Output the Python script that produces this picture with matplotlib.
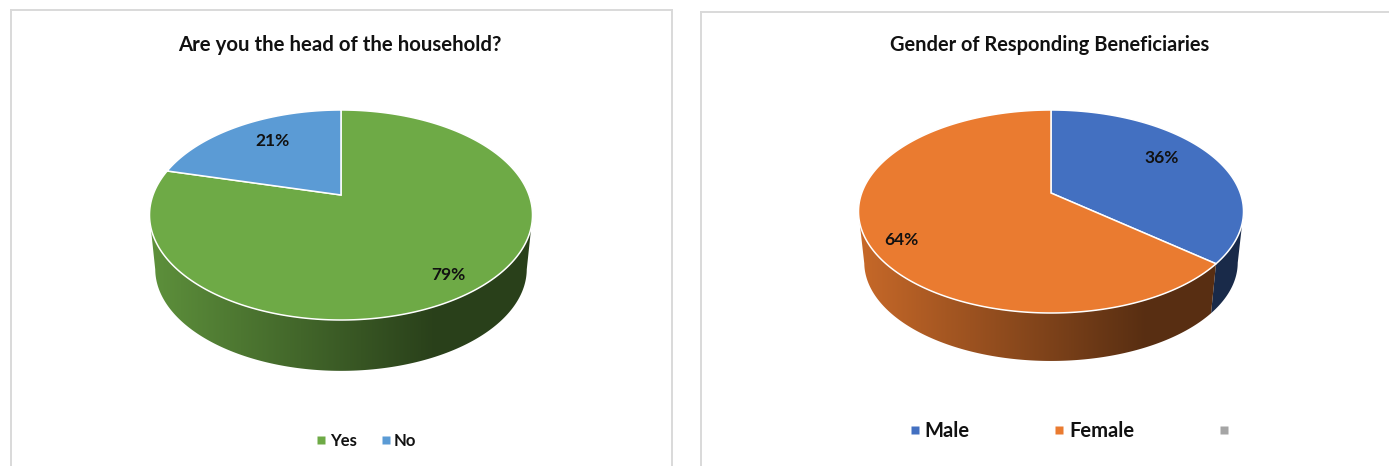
# plot.py - two 3D style pie charts in bordered panels

import numpy as np
import matplotlib
matplotlib.use("Agg")
import matplotlib.pyplot as plt
from matplotlib.colors import to_rgb
from matplotlib.lines import Line2D
from matplotlib.patches import Polygon

W, H = 1389, 466

plt.rcParams["font.family"] = ["Lato", "DejaVu Sans"]
plt.rcParams["font.weight"] = "bold"

# data
head_title = "Are you the head of the household?"
head_labels = ["Yes", "No"]
head_values = [79, 21]
head_colors = ["#6eaa46", "#5b9bd5"]
head_label_pos = [(448, 275), (273, 141)]

gender_title = "Gender of Responding Beneficiaries"
gender_labels = ["Male", "Female", ""]
gender_values = [36, 64]
gender_colors = ["#4370c1", "#ea7b30", "#a5a5a5"]
gender_label_pos = [(1162, 158), (901, 240)]


def make_panel(x0, y0, x1, y1):
    ax = fig.add_axes([x0 / W, 1 - y1 / H, (x1 - x0) / W, (y1 - y0) / H])
    ax.set_xticks([])
    ax.set_yticks([])
    for spine in ax.spines.values():
        spine.set_color("#d9d9d9")
        spine.set_linewidth(1.4)
    ax.set_xlim(x0, x1)
    ax.set_ylim(y1, y0)
    return ax


def side_image(color):
    # left to right shading of the pie wall
    t = np.linspace(0, 1, 256)
    shade = np.interp(t, [0, 0.74, 1], [0.85, 0.38, 0.38])
    return (np.array(to_rgb(color))[None, None, :] * shade[None, :, None]).clip(0, 1)


def draw_pie(ax, values, colors, cx, top, bottom, apex_y, rx, depth):
    # tilted disc: circle -> screen through a projective map, apex is the true centre
    up, down = apex_y - top, bottom - apex_y
    k = (down - up) / (down + up)
    b = up * (1 + k)
    a = rx * np.sqrt(1 - k ** 2)
    cy = (top + bottom) / 2

    def rim(t):
        u, v = np.sin(t), np.cos(t)
        w = 1 + k * v
        return cx + a * u / w, apex_y - b * v / w

    shares = np.cumsum([0] + list(values)) / sum(values) * 2 * np.pi
    slices = list(zip(shares[:-1], shares[1:], colors))

    # wall first, only the part of the rim that faces the viewer
    for start, end, color in slices:
        x, y = rim(np.linspace(start, end, 400))
        front = y >= cy
        if front.sum() < 2:
            continue
        x, y = x[front], y[front]
        order = np.argsort(x)
        x, y = x[order], y[order]
        x2 = cx + (x - cx) * 0.97
        y2 = cy + depth + (y - cy) * 0.97
        wall = Polygon(np.r_[np.c_[x, y], np.c_[x2, y2][::-1]], closed=True,
                       facecolor="none", edgecolor="none", transform=ax.transData)
        ax.add_patch(wall)
        img = ax.imshow(side_image(color), extent=[cx - rx, cx + rx, bottom + depth, cy],
                        aspect="auto", zorder=2, interpolation="bilinear")
        img.set_clip_path(wall)

    # top face
    for start, end, color in slices:
        x, y = rim(np.linspace(start, end, 400))
        pts = np.r_[[[cx, apex_y]], np.c_[x, y]]
        ax.add_patch(Polygon(pts, closed=True, facecolor=color, edgecolor="white",
                             linewidth=1.1, zorder=3))


def add_legend(ax, labels, colors, anchor, size, fontsize, spacing):
    handles = [Line2D([], [], linestyle="none", marker="s", markersize=size,
                      markerfacecolor=c, markeredgecolor="none") for c in colors]
    ax.legend(handles, labels, loc="center", bbox_to_anchor=anchor,
              bbox_transform=ax.transData, ncol=len(labels), frameon=False,
              fontsize=fontsize, columnspacing=spacing, handlelength=0.7,
              handletextpad=0.15, borderpad=0, labelcolor="#111111")


fig = plt.figure(figsize=(W / 100, H / 100), dpi=100, facecolor="white")

# left panel
ax1 = make_panel(11, 10, 672, 480)
draw_pie(ax1, head_values, head_colors, 341, 110, 320, 195, 191.5, 54)
ax1.set_xlim(11, 672)
ax1.set_ylim(480, 10)
ax1.text(340, 45, head_title, ha="center", va="center", fontsize=14.7, color="#111111")
for pos, val in zip(head_label_pos, head_values):
    ax1.text(pos[0], pos[1], f"{val}%", ha="center", va="center", fontsize=12.5, color="#111111")
add_legend(ax1, head_labels, head_colors, (366, 441), 5.2, 12, 1.4)

# right panel
ax2 = make_panel(701, 12, 1400, 480)
draw_pie(ax2, gender_values, gender_colors[:2], 1051, 110, 313, 193, 192.5, 51)
ax2.set_xlim(701, 1400)
ax2.set_ylim(480, 12)
ax2.text(1050, 45, gender_title, ha="center", va="center", fontsize=14.4, color="#111111")
for pos, val in zip(gender_label_pos, gender_values):
    ax2.text(pos[0], pos[1], f"{val}%", ha="center", va="center", fontsize=12.5, color="#111111")
add_legend(ax2, gender_labels, gender_colors, (1071, 431), 6.2, 14.5, 4.1)

fig.savefig("out.png", dpi=100)
